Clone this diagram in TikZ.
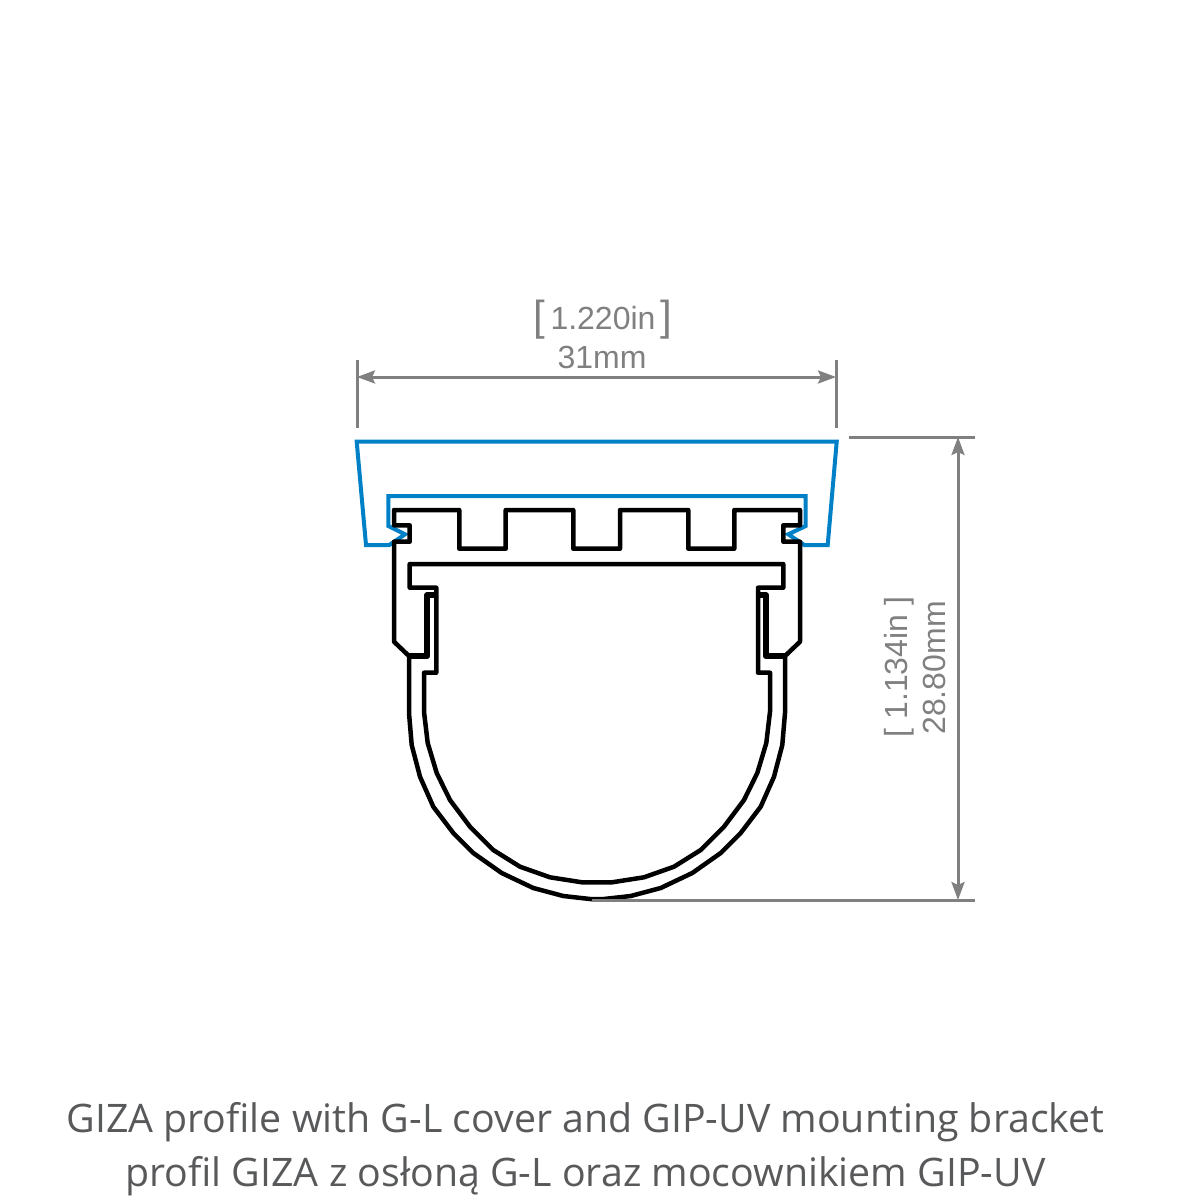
\documentclass[tikz,border=0pt]{standalone}
\usepackage{fontspec}
\setmainfont{Liberation Sans}
\newfontfamily\titlefont{Open Sans}
\usetikzlibrary{arrows.meta}
\definecolor{dimgrey}{HTML}{808080}
\definecolor{coverblue}{HTML}{0080C6}
\definecolor{titlegrey}{HTML}{58595B}
\tikzset{
  dimline/.style={draw=dimgrey,line width=3pt},
  dimarrow/.style={dimline,{Stealth[length=18pt,width=13pt,inset=3pt]}-{Stealth[length=18pt,width=13pt,inset=3pt]}},
  dimtext/.style={text=dimgrey,inner sep=0pt,font=\fontsize{32}{32}\selectfont},
  cover/.style={draw=coverblue,line width=4pt,line join=miter,miter limit=3},
  profile/.style={draw=black,line width=4.5pt,line join=round},
  heavy/.style={draw=black,line width=6pt,line join=round},
  titletext/.style={text=titlegrey,inner sep=0pt,font=\titlefont\fontsize{39.3}{39.3}\selectfont}
}
\begin{document}
\begin{tikzpicture}[x=1pt,y=-1pt]
\useasboundingbox (0,0) rectangle (1200,1200);
% cover
\draw[cover] (356.7,441.7) -- (366,545) -- (389.3,545) -- (405,534.3) -- (388.3,526) -- (388.3,496)
  -- (805.7,496) -- (805.7,526) -- (788.3,534.3) -- (804.3,545) -- (827.7,545) -- (836.7,441.7) -- cycle;
% main profile: comb and outer shell
\draw[profile] (394,510) -- (459.3,510) -- (459.3,548.7) -- (505.7,548.7) -- (505.7,510) -- (573.3,510)
  -- (573.3,548.7) -- (620,548.7) -- (620,510) -- (688.3,510) -- (688.3,548.7) -- (734.3,548.7)
  -- (734.3,510) -- (800,510) -- (800,525.3) -- (783.3,525.3) -- (783.3,541.7) -- (800,541.7)
  -- (800,641.7) -- (785,656) -- (785,713) -- (782.3,745) -- (774,776.7) -- (760.7,806.7)
  -- (740.7,833) -- (720.7,853) -- (692.3,873) -- (660.7,888) -- (630.7,896) -- (604,899) -- (590,899)
  -- (563.3,896) -- (533.3,888) -- (501.7,873) -- (473.3,853) -- (453.3,833) -- (433.3,806.7)
  -- (420,776.7) -- (411.7,745) -- (409,713) -- (409,656) -- (394,641.7) -- (394,541.7)
  -- (409.7,541.7) -- (409.7,525.3) -- (394,525.3) -- cycle;
% inner channel
\draw[profile] (409.7,564) -- (783.3,564) -- (783.3,587.7) -- (758,587.7) -- (758,595)
  -- (758,672.7) -- (770,672.7) -- (770,711.7) -- (766.3,743) -- (757.3,773) -- (744,800)
  -- (724,826.7) -- (700.7,850) -- (674,866.7) -- (644,877.3) -- (612,882.3) -- (582,882.3)
  -- (550,877.3) -- (520,866.7) -- (493.3,850) -- (470,826.7) -- (450,800) -- (436.7,773)
  -- (427.7,743) -- (424,711.7) -- (424,672.7) -- (436.3,672.7) -- (436.3,595) -- (436.3,587.7)
  -- (409.7,587.7) -- cycle;
% mounting bracket hooks
\draw[heavy] (436.3,595) -- (427.3,595) -- (427.3,656) -- (409,656);
\draw[heavy] (758,595) -- (765.7,595) -- (765.7,656) -- (785,656);
% dimensions
\coordinate (wl) at (357,377);
\coordinate (wr) at (836,377);
\coordinate (wlt) at (357,360);
\coordinate (wlb) at (357,428);
\coordinate (wrt) at (836,360);
\coordinate (wrb) at (836,428);
\coordinate (ht) at (958,437);
\coordinate (hb) at (958,900);
\coordinate (hts) at (849,437);
\coordinate (hte) at (975,437);
\coordinate (hbs) at (592,900);
\coordinate (hbe) at (975,900);
\draw[dimline] (wlt) -- (wlb);
\draw[dimline] (wrt) -- (wrb);
\draw[dimarrow] (wl) -- (wr);
\draw[dimline] (hts) -- (hte);
\draw[dimline] (hbs) -- (hbe);
\draw[dimarrow] (ht) -- (hb);
\node[dimtext,anchor=base] (inw) at (603,329) {\raisebox{-1pt}{\fontsize{42}{42}\selectfont[}\,1.220in\,\raisebox{-1pt}{\fontsize{42}{42}\selectfont]}};
\node[dimtext,anchor=base] (mmw) at (602,368) {31mm};
\node[dimtext,anchor=base,rotate=90] (inh) at (907,667) {[ 1.134in ]};
\node[dimtext,anchor=base,rotate=90] (mmh) at (945,668) {28.80mm};
% captions
\node[titletext,anchor=base] (cap1) at (585.5,1132) {GIZA profile with G-L cover and GIP-UV mounting bracket};
\node[titletext,anchor=base] (cap2) at (585.5,1186) {profil GIZA z osłoną G-L oraz mocownikiem GIP-UV};
\end{tikzpicture}
\end{document}
